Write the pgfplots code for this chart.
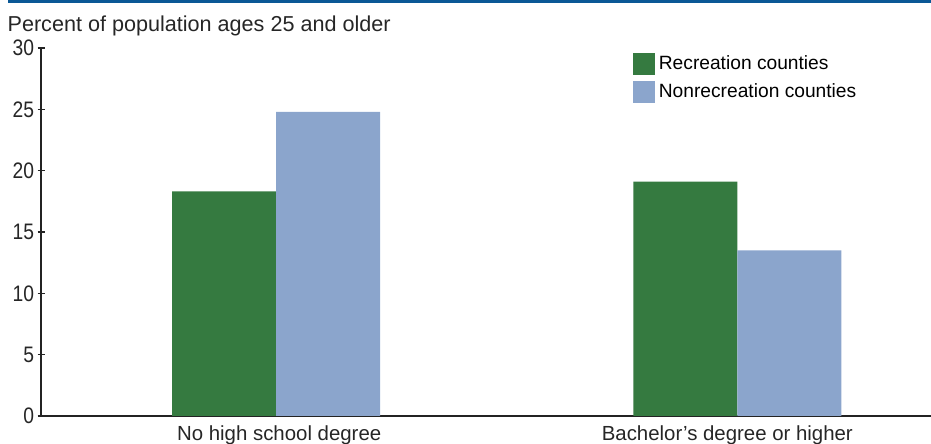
\documentclass[border=0pt]{standalone}
\usepackage{fontspec}
\setmainfont{Liberation Sans}
\newfontfamily\narrowfont{Liberation Sans}[FakeStretch=0.86]
\usepackage{pgfplots}
\pgfplotsset{compat=1.18}
\definecolor{recgreen}{RGB}{53,122,64}
\definecolor{nonblue}{RGB}{139,165,204}
\definecolor{topblue}{RGB}{10,88,150}
\definecolor{axisgray}{RGB}{35,35,35}
\begin{document}
\begin{tikzpicture}
\begin{axis}[
    scale only axis,
    width=445pt, height=184pt,
    ybar=0pt, bar width=52pt,
    xmin=-0.51, xmax=1.42,
    ymin=0, ymax=30,
    ytick={0,5,...,30},
    xtick={0,1},
    xticklabels={\hspace*{3pt}No high school degree, Bachelor’s degree or higher\hspace*{10pt}},
    x tick style={draw=none},
    y tick style={axisgray, line width=0.6pt},
    tick align=outside, major tick length=3.5pt,
    axis x line=bottom, axis y line=left,
    axis line style={axisgray, line width=0.9pt, -},
    yticklabel style={font=\narrowfont\fontsize{11.2}{12}\selectfont, text=black!85, xshift=1.8pt},
    xticklabel style={font=\fontsize{10.2}{11}\selectfont, text=black!85, yshift=0.5pt},
    /pgf/number format/assume math mode=true,
    clip=false,
    legend cell align=left,
    legend style={at={(0.665,0.99)}, anchor=north west, draw=none, fill=none,
        inner sep=0pt, outer sep=0pt,
        font=\fontsize{9.6}{10}\selectfont, row sep=1.5pt,
        /tikz/every even column/.append style={column sep=5pt}},
    legend image code/.code={\fill[#1] (0pt,-5.5pt) rectangle (11pt,5.5pt);},
]
\addplot[draw=none, fill=recgreen] coordinates {(0,18.3) (1,19.1)};
\addlegendentry{Recreation counties}
\addplot[draw=none, fill=nonblue] coordinates {(0,24.8) (1,13.5)};
\addlegendentry{Nonrecreation counties}
\draw[topblue, line width=1.6pt] (rel axis cs:-0.037,1.1265) -- (rel axis cs:1,1.1265);
\node[anchor=north west, inner sep=0pt, font=\fontsize{10.8}{12}\selectfont, text=black!85]
    at (rel axis cs:-0.038,1.088) {Percent of population ages 25 and older};
\coordinate (bl) at (rel axis cs:-0.0461,-0.0761);
\coordinate (tr) at (rel axis cs:1,1.1304);
\end{axis}
\pgfresetboundingbox
\path[use as bounding box] (bl) rectangle (tr);
\end{tikzpicture}
\end{document}
